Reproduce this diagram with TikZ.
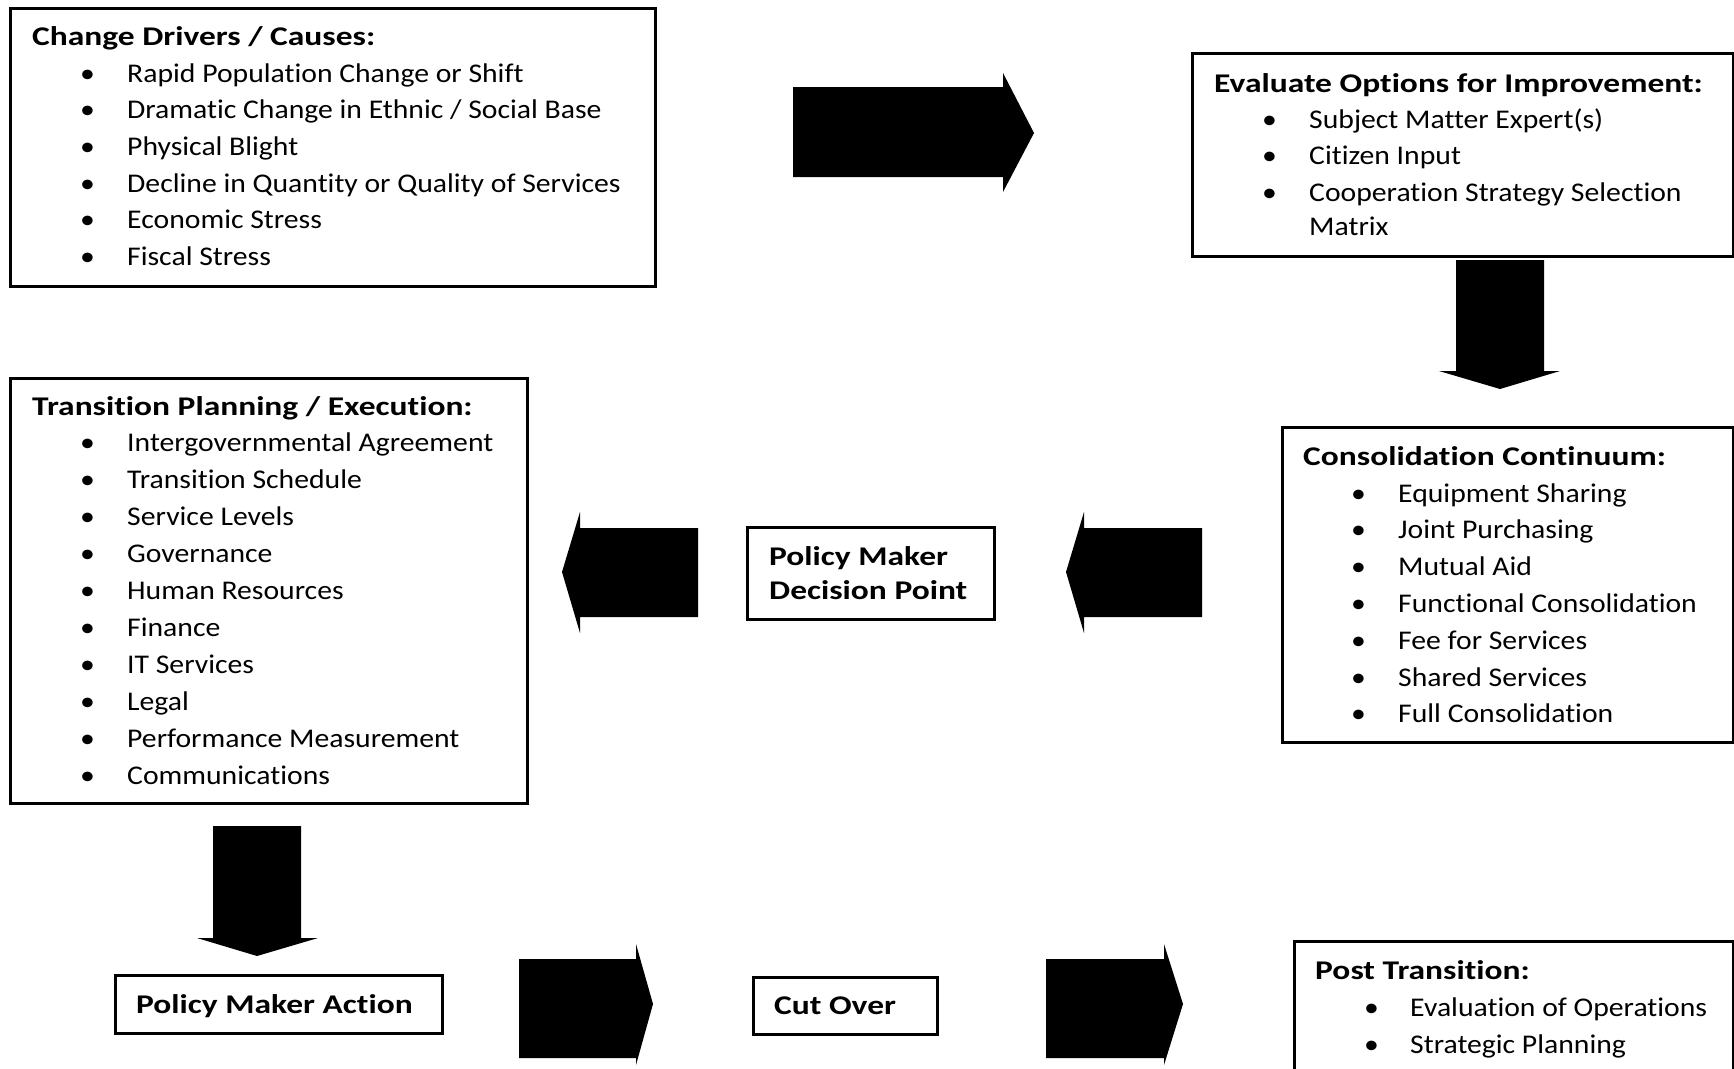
\documentclass[tikz,border=0pt]{standalone}
\usepackage{fontspec}
\setmainfont{Carlito}[FakeStretch=1.1, Ligatures=NoCommon]
\newfontfamily\ttlfont{Carlito}[FakeStretch=1.24, Ligatures=NoCommon]
\begin{document}
\begin{tikzpicture}[x=1pt,y=-1pt,
  box/.style={draw=black, line width=2.6pt, fill=white, anchor=north west, inner sep=0pt},
  ttl/.style={anchor=base west, font=\fontsize{27}{32}\ttlfont\bfseries, inner sep=0pt},
  itm/.style={anchor=base west, font=\fontsize{27}{32}\selectfont, inner sep=0pt},
  blk/.style={fill=black, draw=none}]
\useasboundingbox (0,0) rectangle (1734,1068);
% boxes
\node[box, minimum width=645pt, minimum height=278pt] (drivers) at (9,7) {};
\node[box, minimum width=541pt, minimum height=203pt] (evaluate) at (1191,52) {};
\node[box, minimum width=451pt, minimum height=315pt] (consol) at (1281,426) {};
\node[box, minimum width=247pt, minimum height=92pt] (decision) at (746,526) {};
\node[box, minimum width=517pt, minimum height=425pt] (planning) at (9,377) {};
\node[box, minimum width=327pt, minimum height=58pt] (action) at (114,974) {};
\node[box, minimum width=184pt, minimum height=57pt] (cutover) at (752,976) {};
\node[box, minimum width=439pt, minimum height=160pt] (post) at (1293,940) {};
% box 1
\node[ttl] (t1) at (32,45) {Change Drivers / Causes:};
\foreach \t [count=\i from 0] in {Rapid Population Change or Shift,Dramatic Change in Ethnic / Social Base,Physical Blight,Decline in Quantity or Quality of Services,Economic Stress,Fiscal Stress}{
  \node[itm] (b1-\i) at (80,82+36.7*\i) {•};
  \node[itm] (i1-\i) at (127,82+36.7*\i) {\t};
}
% box 2
\node[ttl] (t2) at (1214,92) {Evaluate Options for Improvement:};
\foreach \t [count=\i from 0] in {Subject Matter Expert(s),Citizen Input,Cooperation Strategy Selection}{
  \node[itm] (b2-\i) at (1262,128.4+36.5*\i) {•};
  \node[itm] (i2-\i) at (1309,128.4+36.5*\i) {\t};
}
\node[itm] (i2-3) at (1309,235.7) {Matrix};
% box 3
\node[ttl] (t3) at (1303,465) {Consolidation Continuum:};
\foreach \t [count=\i from 0] in {Equipment Sharing,Joint Purchasing,Mutual Aid,Functional Consolidation,Fee for Services,Shared Services,Full Consolidation}{
  \node[itm] (b3-\i) at (1351,502+36.8*\i) {•};
  \node[itm] (i3-\i) at (1398,502+36.8*\i) {\t};
}
% box 4
\node[ttl] (t4) at (32,415) {Transition Planning / Execution:};
\foreach \t [count=\i from 0] in {Intergovernmental Agreement,Transition Schedule,Service Levels,Governance,Human Resources,Finance,IT Services,Legal,Performance Measurement,Communications}{
  \node[itm] (b4-\i) at (80,451+37*\i) {•};
  \node[itm] (i4-\i) at (127,451+37*\i) {\t};
}
% small boxes
\node[ttl] (t5a) at (769,565) {Policy Maker};
\node[ttl] (t5b) at (769,599) {Decision Point};
\node[ttl] (t6) at (136,1013) {Policy Maker Action};
\node[ttl] (t7) at (774,1014) {Cut Over};
% post
\node[ttl] (t8) at (1315,979) {Post Transition:};
\foreach \t [count=\i from 0] in {Evaluation of Operations,Strategic Planning}{
  \node[itm] (b8-\i) at (1364,1016.5+36.5*\i) {•};
  \node[itm] (i8-\i) at (1410,1016.5+36.5*\i) {\t};
}
% block arrows
\fill[blk] (793,87) -- (1003,87) -- (1003,73) -- (1034,133) -- (1003,192) -- (1003,177) -- (793,177) -- cycle;
\fill[blk] (1456,260) -- (1544,260) -- (1544,371) -- (1560,371) -- (1500,389) -- (1439,371) -- (1456,371) -- cycle;
\fill[blk] (1202,528) -- (1084,528) -- (1084,512) -- (1066,572) -- (1084,633) -- (1084,617) -- (1202,617) -- cycle;
\fill[blk] (698,528) -- (580,528) -- (580,512) -- (562,572) -- (580,633) -- (580,617) -- (698,617) -- cycle;
\fill[blk] (213,826) -- (301,826) -- (301,938) -- (318,938) -- (257,956) -- (197,938) -- (213,938) -- cycle;
\fill[blk] (519,959) -- (636,959) -- (636,944) -- (653,1004) -- (636,1065) -- (636,1058) -- (519,1058) -- cycle;
\fill[blk] (1046,959) -- (1164,959) -- (1164,944) -- (1183,1004) -- (1164,1065) -- (1164,1058) -- (1046,1058) -- cycle;
\end{tikzpicture}
\end{document}
